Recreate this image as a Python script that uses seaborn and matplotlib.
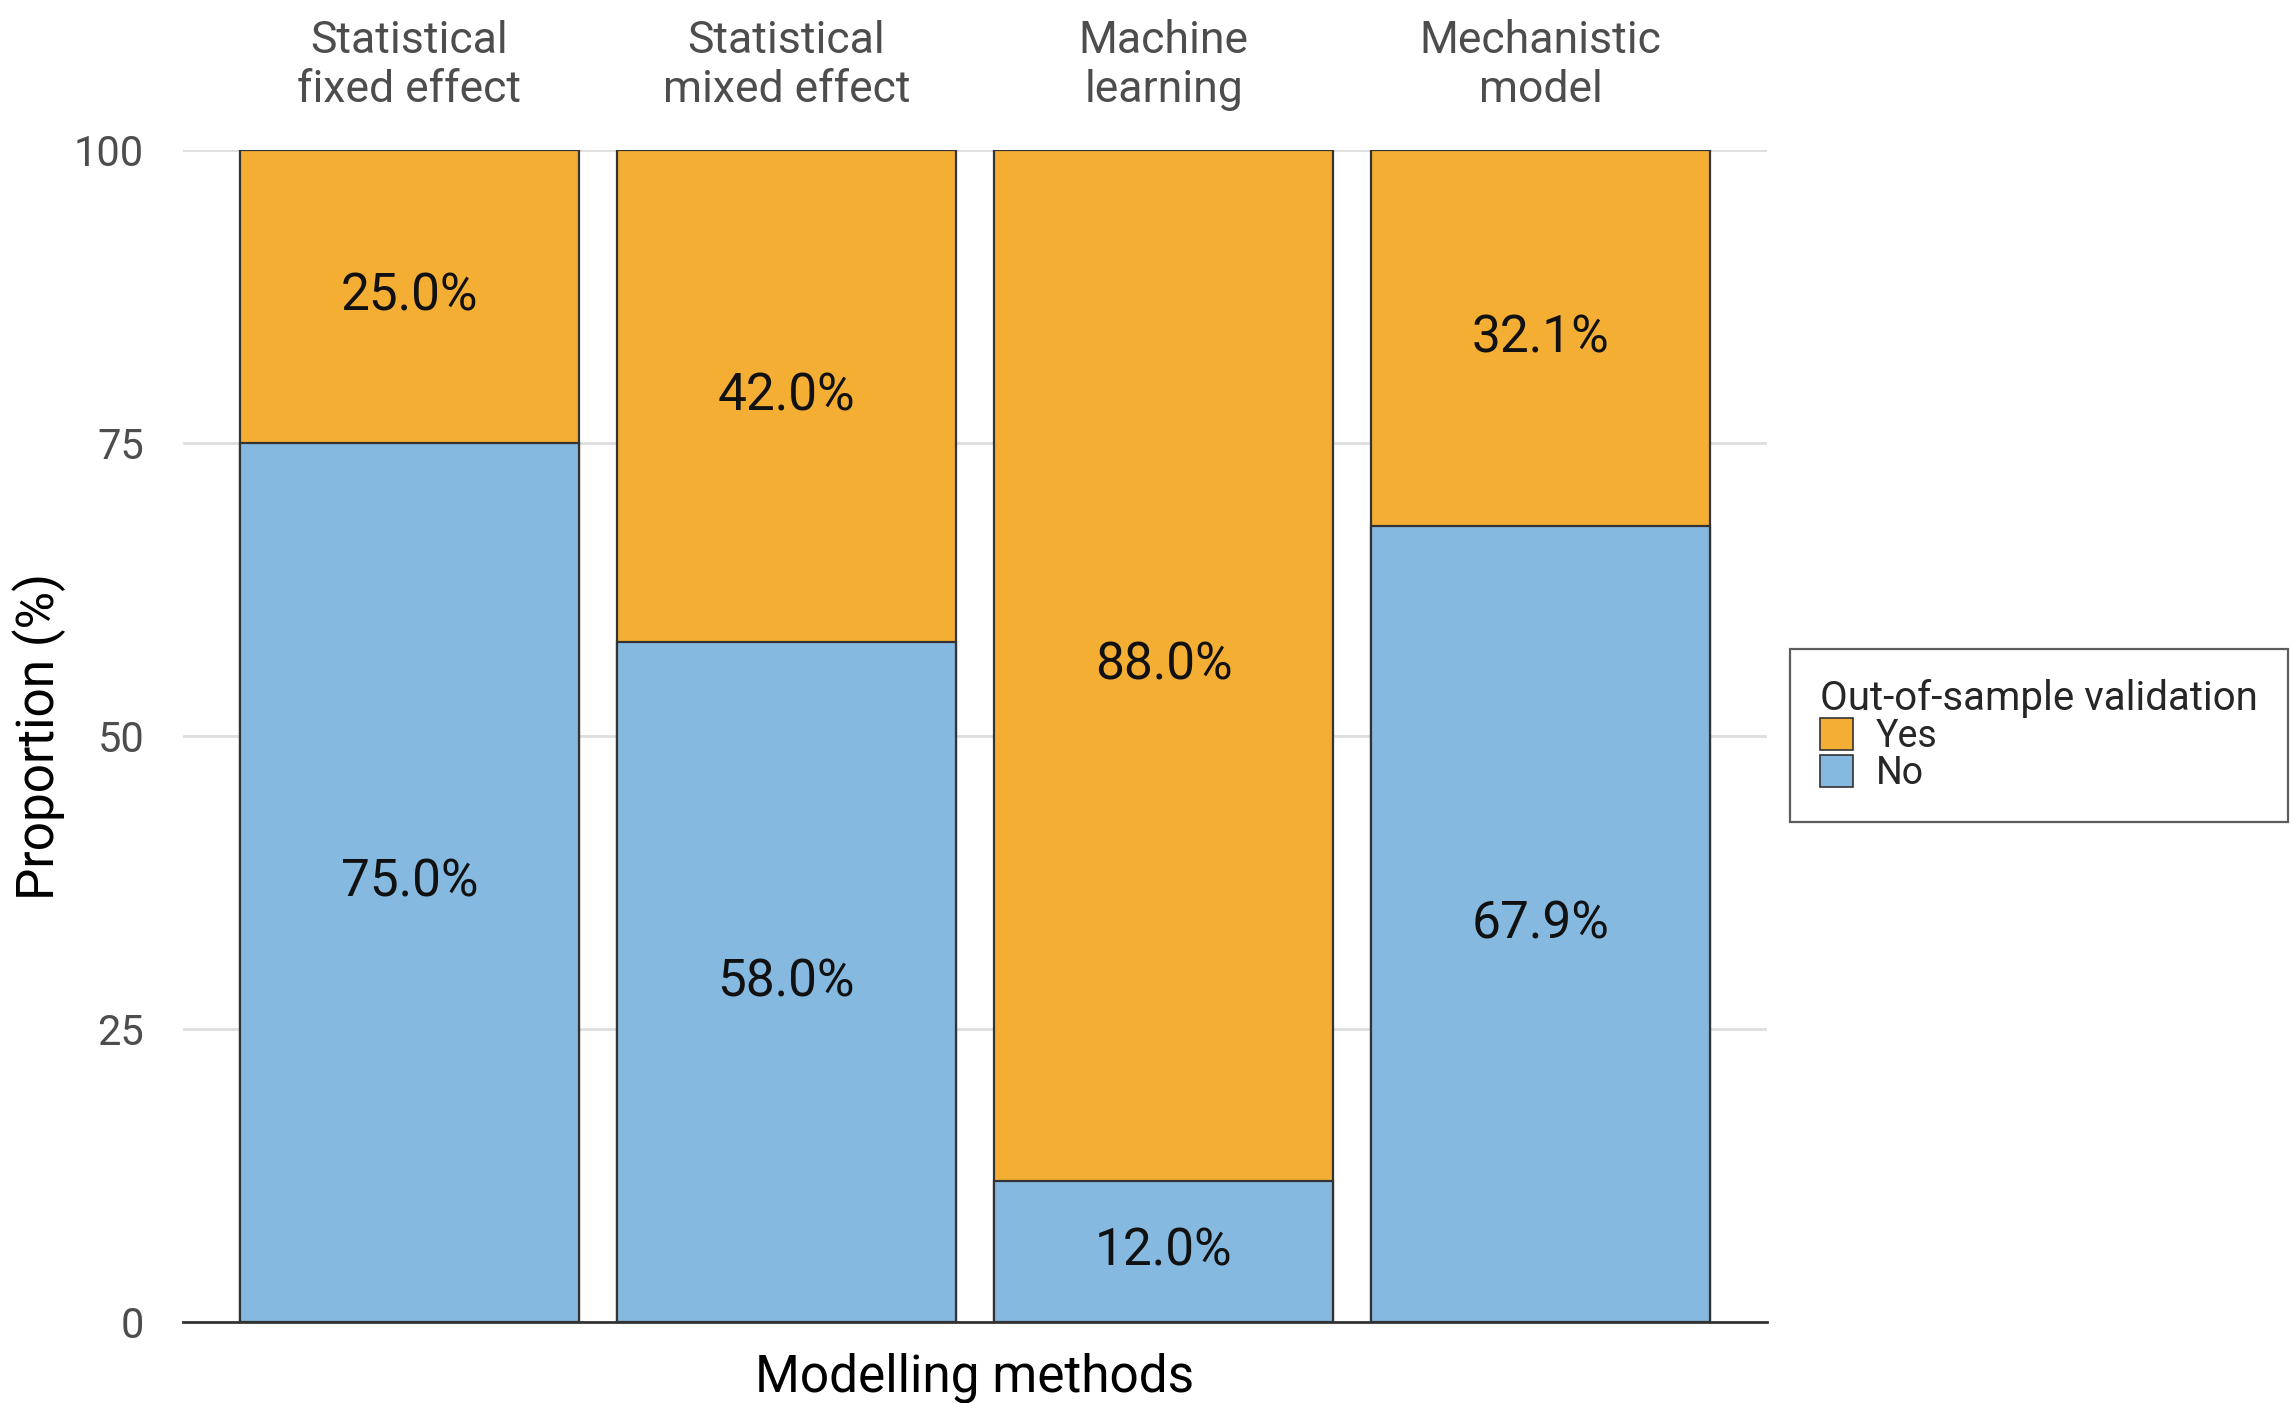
import pandas as pd
import seaborn as sns
import matplotlib.pyplot as plt
from matplotlib.patches import Patch

methods = ["Statistical\nfixed effect", "Statistical\nmixed effect", "Machine\nlearning", "Mechanistic\nmodel"]
yes_pct = [25.0, 42.0, 88.0, 32.1]
no_pct = [75.0, 58.0, 12.0, 67.9]
y_ticks = [0, 25, 50, 75, 100]

yes_color = "#F4AE33"
no_color = "#85B9E0"
edge = "#333333"

df = pd.DataFrame({"method": methods, "yes": yes_pct, "no": no_pct})
df["total"] = df["yes"] + df["no"]

sns.set_theme(style="white")
plt.rcParams["font.family"] = ["Roboto", "DejaVu Sans"]

fig = plt.figure(figsize=(22.9, 14.03), dpi=100)
ax = fig.add_axes([0.0799, 0.0577, 0.6917, 0.8354])

# stacked bars: full height in orange first, then the "No" part over it
sns.barplot(data=df, x="method", y="total", color=yes_color, width=0.9,
            edgecolor=edge, linewidth=1.6, saturation=1, ax=ax, zorder=3)
sns.barplot(data=df, x="method", y="no", color=no_color, width=0.9,
            edgecolor=edge, linewidth=1.6, saturation=1, ax=ax, zorder=3)

for i, row in df.iterrows():
    ax.text(i, row["no"] + row["yes"] / 2, f"{row['yes']:.1f}%", ha="center", va="center",
            fontsize=37, color="#111111", zorder=5)
    ax.text(i, row["no"] / 2, f"{row['no']:.1f}%", ha="center", va="center",
            fontsize=37, color="#111111", zorder=5)

ax.set_xlim(-0.6, 3.6)
ax.set_ylim(0, 100)
ax.set_yticks(y_ticks)
ax.yaxis.grid(True, color="#DEDEDE", linewidth=2, zorder=0)
ax.xaxis.grid(False)
for s in ["top", "right", "left"]:
    ax.spines[s].set_visible(False)
ax.spines["bottom"].set_color("#333333")
ax.spines["bottom"].set_linewidth(2)
ax.spines["bottom"].set_zorder(4)

ax.xaxis.tick_top()
ax.xaxis.set_label_position("bottom")
ax.tick_params(axis="x", length=0, pad=28, labelsize=32, labelcolor="#4D4D4D")
ax.tick_params(axis="y", length=0, pad=28, labelsize=30, labelcolor="#4D4D4D")
for lbl in ax.get_xticklabels():
    lbl.set_linespacing(1.2)

ax.set_xlabel("Modelling methods", fontsize=37, color="black", labelpad=22)
ax.set_ylabel("Proportion (%)", fontsize=37, color="black", labelpad=6)

handles = [Patch(facecolor=yes_color, edgecolor=edge, linewidth=1.2, label="Yes"),
           Patch(facecolor=no_color, edgecolor=edge, linewidth=1.2, label="No")]
leg = fig.legend(handles=handles, title="Out-of-sample validation", loc="center left",
                 bbox_to_anchor=(0.7815, 0.476), fontsize=27, title_fontsize=29,
                 frameon=True, fancybox=False, edgecolor="#333333", labelspacing=0.0,
                 handlelength=0.9, handleheight=0.95, handletextpad=0.6,
                 borderpad=0.8, borderaxespad=0, alignment="left")
leg.get_frame().set_linewidth(1.6)

fig.savefig("out.png", dpi=100)
